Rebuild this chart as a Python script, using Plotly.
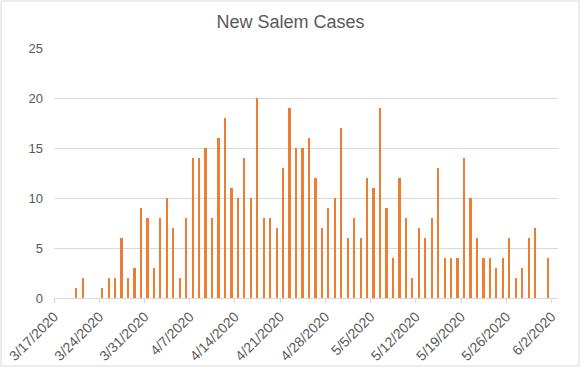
import pandas as pd
import plotly.graph_objects as go

start_date = "2020-03-17"
end_date = "2020-06-02"
cases = [
    0, 0, 0, 1, 2, 0, 0, 1, 2, 2, 6, 2, 3, 9, 8,      # 3/17 - 3/31
    3, 8, 10, 7, 2, 8, 14, 14, 15, 8, 16, 18, 11, 10,  # 4/1 - 4/14
    14, 10, 20, 8, 8, 7, 13, 19, 15, 15, 16, 12, 7, 9, # 4/15 - 4/28
    10, 17,                                            # 4/29 - 4/30
    6, 8, 6, 12, 11, 19, 9, 4, 12, 8, 2, 7, 6, 8,      # 5/1 - 5/14
    13, 4, 4, 4, 14, 10, 6, 4, 4, 3, 4, 6, 2, 3,       # 5/15 - 5/28
    6, 7, 0,                                           # 5/29 - 5/31
    4, 0,                                              # 6/1 - 6/2
]
dates = pd.date_range(start_date, end_date, freq="D")
tick_dates = pd.date_range(start_date, end_date, freq="7D")
tick_labels = [f"{d.month}/{d.day}/{d.year}" for d in tick_dates]

fig = go.Figure()
fig.add_trace(go.Bar(
    x=dates, y=cases,
    xperiod=86400000, xperiodalignment="middle",
    width=86400000 * 0.27,
    marker=dict(color="#ED7D31", line=dict(width=0)),
))

W, H = 581, 368
ml, mr, mt, mb = 54, 23, 48, 70
pw, ph = W - ml - mr, H - mt - mb

fig.update_layout(
    width=W, height=H,
    margin=dict(l=ml, r=mr, t=mt, b=mb, autoexpand=False),
    paper_bgcolor="white", plot_bgcolor="white",
    font=dict(family="Liberation Sans, Arial, sans-serif", color="#595959", size=12),
    title=dict(text="New Salem Cases", x=0.5, xanchor="center", y=1 - 22 / H, yanchor="middle",
               font=dict(size=18, color="#595959")),
    showlegend=False,
    bargap=0,
    xaxis=dict(
        type="date", automargin=False,
        range=[pd.Timestamp(start_date), pd.Timestamp(end_date) + pd.Timedelta(days=1)],
        tickvals=tick_dates, ticktext=tick_labels,
        tickangle=-45,
        ticks="outside", ticklen=4, tickcolor="#D9D9D9",
        showline=True, linecolor="#D9D9D9", linewidth=1,
        showgrid=False, zeroline=False,
        tickfont=dict(size=14, color="#595959"),
    ),
    yaxis=dict(
        automargin=False,
        range=[0, 25], tickvals=[0, 5, 10, 15, 20, 25],
        showgrid=True, gridcolor="#D9D9D9", gridwidth=1,
        zeroline=False, showline=False, ticks="",
        ticklabelstandoff=10,
        tickfont=dict(size=13, color="#595959"),
    ),
    shapes=[dict(
        type="rect", xref="paper", yref="paper",
        x0=-(ml - 1) / pw, x1=1 + (mr - 2) / pw,
        y0=-(mb - 2) / ph, y1=1 + (mt - 1) / ph,
        line=dict(color="#D9D9D9", width=1), fillcolor="rgba(0,0,0,0)", layer="below",
    )],
)

fig.write_html(
    "out.html",
    config={"displayModeBar": False},
    post_script="document.body.style.margin='0';document.body.style.padding='0';",
)
